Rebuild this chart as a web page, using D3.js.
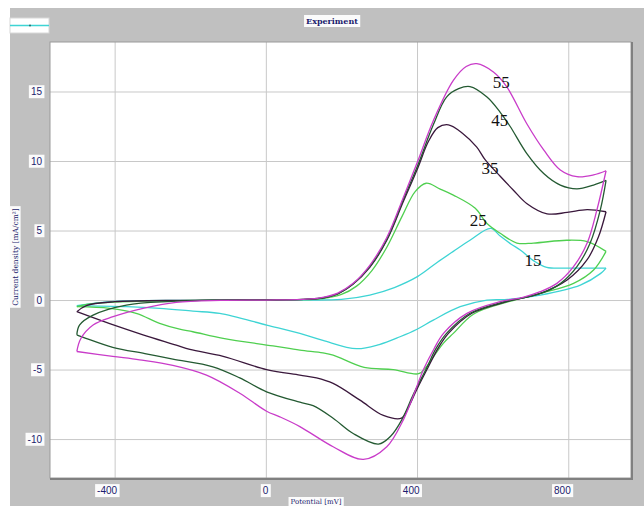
<!DOCTYPE html>
<html><head><meta charset="utf-8">
<script src="https://cdn.jsdelivr.net/npm/d3@7"></script>
<style>body{margin:0;background:#fff}svg{display:block}</style>
</head><body>
<svg id="c" width="644" height="506"></svg>
<script>
// ---- data (potential mV, current density mA/cm2) ----
const scanRates = ["15","25","35","45","55"];
const xTicks = [-400, 0, 400, 800];
const yTicks = [-10, -5, 0, 5, 10, 15];

const fwd15 = [[-500,-0.4],[-400,-0.1],[-200,-0.02],[100,0],[200,0.05],[275,0.36],[340,0.9],[402,1.7],[453,2.7],[496,3.5],[540,4.3],[595,5.15],[620,4.6],[650,4.0],[673,3.6],[710,2.8],[743,2.35],[800,2.3],[860,2.3],[900,2.3]];
const rev15 = [[900,2.3],[885,1.9],[832,1.08],[726,0.36],[640,0.05],[585,0],[514,-0.48],[443,-1.44],[400,-2.1],[355,-2.64],[300,-3.2],[240,-3.5],[151,-2.9],[90,-2.4],[2,-1.8],[-122,-0.96],[-193,-0.8],[-281,-0.6],[-369,-0.48],[-500,-0.4]];

const fwd25 = [[-500,-0.48],[-470,-0.3],[-400,-0.15],[-200,-0.03],[100,0.03],[150,0.1],[200,0.4],[240,1.0],[280,2.1],[320,3.8],[360,6.0],[395,7.8],[424,8.4],[460,8.0],[496,7.55],[554,6.6],[585,5.5],[620,4.8],[664,4.1],[708,4.1],[796,4.3],[850,4.2],[900,3.5]];
const rev25 = [[900,3.5],[867,2.16],[814,1.2],[726,0.48],[645,-0.1],[550,-1.0],[496,-2.4],[470,-3.1],[443,-4.1],[425,-4.8],[404,-5.3],[337,-5.0],[260,-4.85],[178,-3.96],[151,-3.8],[90,-3.6],[19,-3.3],[-113,-2.76],[-193,-2.28],[-228,-2.1],[-281,-1.68],[-343,-0.96],[-413,-0.6],[-500,-0.48]];

const fwd35 = [[-500,-0.84],[-475,-0.4],[-400,-0.12],[-200,-0.02],[100,0.05],[143,0.12],[190,0.45],[231,1.15],[275,2.35],[320,4.3],[364,7.1],[402,9.5],[430,11.4],[455,12.4],[483,12.6],[520,12.0],[558,11.0],[580,10.1],[620,8.9],[655,7.9],[690,6.95],[744,6.2],[797,6.3],[850,6.5],[900,6.35]];
const rev35 = [[900,6.35],[880,4.55],[850,2.9],[797,1.44],[726,0.48],[640,-0.1],[545,-0.95],[483,-2.4],[455,-3.5],[430,-4.8],[400,-6.4],[372,-8.0],[359,-8.5],[311,-8.3],[249,-7.2],[178,-6.0],[134,-5.6],[90,-5.4],[2,-5.0],[-113,-4.05],[-201,-3.55],[-237,-3.24],[-325,-2.5],[-413,-1.7],[-500,-0.84]];

const fwd45 = [[-500,-2.5],[-493,-1.8],[-457,-1.08],[-369,-0.36],[-250,-0.1],[-100,0],[100,0.05],[143,0.13],[190,0.45],[231,1.15],[275,2.4],[320,4.35],[364,7.25],[402,9.7],[443,12.6],[478,14.6],[510,15.2],[540,15.35],[585,14.6],[620,13.5],[646,12.5],[690,10.55],[735,9.1],[779,8.27],[823,8.0],[867,8.27],[900,8.6]];
const rev45 = [[900,8.6],[885,6.5],[858,4.1],[823,2.4],[780,1.2],[735,0.55],[680,0.15],[630,-0.12],[540,-0.95],[478,-2.4],[450,-3.5],[425,-4.9],[390,-6.8],[360,-8.6],[330,-9.8],[298,-10.36],[231,-9.6],[178,-8.5],[125,-7.6],[90,-7.35],[2,-6.6],[-69,-5.6],[-140,-4.8],[-246,-4.25],[-320,-3.85],[-405,-3.4],[-500,-2.5]];

const fwd55 = [[-500,-3.7],[-490,-2.8],[-457,-1.8],[-404,-1.2],[-325,-0.6],[-237,-0.17],[-120,-0.03],[0,0],[100,0.05],[143,0.15],[190,0.5],[231,1.2],[275,2.5],[320,4.5],[364,7.4],[402,10.0],[443,12.9],[496,15.8],[530,16.8],[558,17.0],[602,16.4],[637,15.35],[690,12.7],[735,10.8],[779,9.35],[823,8.87],[867,9.0],[900,9.3]];
const rev55 = [[900,9.3],[876,6.5],[850,4.1],[814,2.4],[770,1.2],[726,0.6],[680,0.2],[620,-0.12],[532,-0.96],[470,-2.4],[445,-3.5],[417,-5.0],[390,-6.9],[364,-8.6],[320,-10.55],[258,-11.46],[178,-10.55],[90,-9.1],[37,-8.4],[2,-8.0],[-69,-6.7],[-157,-5.4],[-246,-4.7],[-334,-4.3],[-405,-4.05],[-500,-3.7]];

const annotV = [707, 562, 593, 619, 623];
const annotI = [2.88, 5.76, 9.47, 12.95, 15.7];

// ---- drawing ----
const svg = d3.select("#c");
const L = 50, R = 631, T = 42, B = 478;
const x = d3.scaleLinear().domain([-571, 966]).range([L, R]);
const y = d3.scaleLinear().domain([-12.8, 18.56]).range([B, T]);
const navy = "#1c1c6e";
const fmt = d => String(d);

svg.append("rect").attr("x",10).attr("y",8).attr("width",634).attr("height",498).attr("fill","#c0c0c0");
svg.append("rect").attr("x",L).attr("y",T).attr("width",R-L).attr("height",B-T).attr("fill","#fff");

function boxText(g, pad) {
  g.each(function(){
    const bb = this.getBBox();
    d3.select(this.parentNode).insert("rect", () => this)
      .attr("x", bb.x - pad).attr("y", bb.y - 1).attr("width", bb.width + 2*pad).attr("height", bb.height + 2)
      .attr("fill", "#fbfbfb");
  });
}

// axes with grid
const gx = svg.append("g").attr("transform", `translate(0,${B})`)
  .call(d3.axisBottom(x).tickValues(xTicks).tickSize(-(B-T)).tickPadding(0).tickFormat(fmt));
gx.select(".domain").remove();
gx.selectAll(".tick line").attr("stroke", "#c8c8c8");
gx.selectAll(".tick text").attr("text-anchor","end").attr("x",2).attr("y",9).attr("dy","0.71em")
  .attr("fill", navy).style("font","10px 'Liberation Sans', Arial, sans-serif");
boxText(gx.selectAll(".tick text"), 2);

const gy = svg.append("g").attr("transform", `translate(${L},0)`)
  .call(d3.axisLeft(y).tickValues(yTicks).tickSize(-(R-L)).tickFormat(fmt));
gy.select(".domain").remove();
gy.selectAll(".tick line").attr("stroke", "#c8c8c8");
gy.selectAll(".tick text").attr("x",-8).attr("fill", navy).style("font","10px 'Liberation Sans', Arial, sans-serif");
boxText(gy.selectAll(".tick text"), 2);

// frame
svg.append("rect").attr("x",L).attr("y",T).attr("width",R-L).attr("height",B-T)
  .attr("fill","none").attr("stroke","#9a9a9a").attr("stroke-width",1);
svg.append("path").attr("d",`M${L},${B+1}H${R+1}V${T}`).attr("fill","none").attr("stroke","#808080").attr("stroke-width",2);

// curves
const colors = {"15":"#3ed4d4","25":"#4fcf4f","35":"#3a183c","45":"#245a32","55":"#c93cc9"};
const branches = [["15",fwd15],["15",rev15],["25",fwd25],["25",rev25],["35",fwd35],["35",rev35],["45",fwd45],["45",rev45],["55",fwd55],["55",rev55]];
const line = d3.line().x(d => x(d[0])).y(d => y(d[1])).curve(d3.curveCatmullRom.alpha(0.5));
svg.append("g").selectAll("path").data(branches).join("path")
  .attr("d", d => line(d[1])).attr("fill","none")
  .attr("stroke", d => colors[d[0]]).attr("stroke-width",1.3);

// scan rate labels
svg.append("g").selectAll("text").data(scanRates).join("text")
  .attr("x", (d,i) => x(annotV[i])).attr("y", (d,i) => y(annotI[i]))
  .attr("text-anchor","middle").attr("dy","0.35em")
  .style("font","17px 'Liberation Serif', 'Times New Roman', serif").attr("fill","#111")
  .text(d => d);

// title
const tg = svg.append("g");
tg.append("text").attr("x",332).attr("y",24).attr("text-anchor","middle")
  .style("font","bold 8px 'DejaVu Serif', serif").attr("fill",navy).text("Experiment");
boxText(tg.selectAll("text"), 2);

// legend
svg.append("rect").attr("x",10).attr("y",18).attr("width",39).attr("height",15).attr("fill","#fff").attr("stroke","#d8d8d8");
svg.append("line").attr("x1",10).attr("x2",49).attr("y1",25.5).attr("y2",25.5).attr("stroke","#3ed4d4").attr("stroke-width",1.3);
svg.append("circle").attr("cx",30).attr("cy",25.5).attr("r",1).attr("fill","#2a6a6a");

// y label
const yl = svg.append("g").attr("transform","translate(15,257) rotate(-90)");
yl.append("text").attr("text-anchor","middle").attr("dy","0.35em")
  .style("font","7.5px 'DejaVu Serif', serif").attr("fill",navy).text("Current density [mA/cm²]");
boxText(yl.selectAll("text"), 2);

// x label
const xl = svg.append("g");
xl.append("text").attr("x",316).attr("y",504).attr("text-anchor","middle")
  .style("font","7px 'DejaVu Serif', serif").attr("fill",navy).text("Potential [mV]");
boxText(xl.selectAll("text"), 2);
</script>
</body></html>
